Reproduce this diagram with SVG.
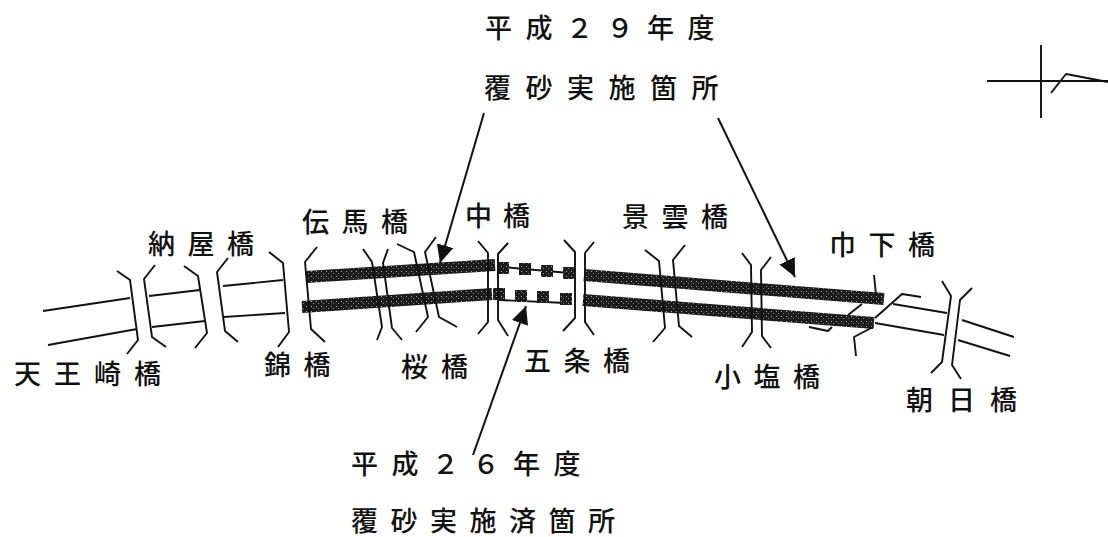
<svg xmlns="http://www.w3.org/2000/svg" width="1108" height="537" viewBox="0 0 1108 537">
<style>
.l{fill:none;stroke:#111;stroke-width:1.9;stroke-linejoin:round}
.b{fill:none;stroke:url(#st);stroke-width:12}
.s{fill:url(#st)}
.a{fill:none;stroke:#111;stroke-width:2}
text{font-family:"Noto Sans CJK JP","Noto Sans CJK SC",sans-serif;font-size:27px;font-weight:500;fill:#111;letter-spacing:12.5px}
</style>
<defs>
<pattern id="st" width="5" height="5" patternUnits="userSpaceOnUse">
<rect width="5" height="5" fill="#1c1c1c"/>
<rect x="1" y="1" width="1" height="1" fill="#a8a8a8"/>
<rect x="3" y="3" width="1" height="1" fill="#808080"/>
</pattern>
<marker id="ah" markerUnits="userSpaceOnUse" markerWidth="20" markerHeight="18" refX="18" refY="8.5" orient="auto">
<path d="M0 0L18 8.5L0 17Z" fill="#111"/>
</marker>
</defs>
<rect width="1108" height="537" fill="#fff"/>
<g id="roadway">
<path class="l" d="M43 311L130 298M48 345L137 329M149 296L200 290M152 327L205 321M223 286L283 280M224 317L285 313"/>
<path class="l" d="M503 267L569 273M499 300L566 303"/>
<path class="l" d="M893 304L947 313M875 323L944 335M962 320L1014 337M958 340L1010 356"/>
<path class="b" d="M306 277L495 265"/>
<path class="b" d="M302 307L492 294"/>
<path class="b" d="M584 275L884 299"/>
<path class="b" d="M583 300L874 323"/>
<g class="s">
<rect x="497" y="262" width="12" height="12"/><rect x="519" y="263" width="12" height="12"/><rect x="541" y="265" width="12" height="12"/><rect x="563" y="267" width="12" height="12"/>
<rect x="493" y="288" width="12" height="12"/><rect x="515" y="290" width="12" height="12"/><rect x="537" y="291" width="12" height="12"/><rect x="560" y="293" width="12" height="12"/>
</g>
</g>
<g id="tennozaki">
<path class="l" d="M117 271L130 280L138 340L127 354M155 265L144 279L152 337L166 347"/>
<text x="14" y="384" style="letter-spacing:13px">天王崎橋</text>
</g>
<g id="naya">
<path class="l" d="M184 266L198 276L207 333L195 348M228 258L217 272L225 331L238 342"/>
<text x="148" y="254">納屋橋</text>
</g>
<g id="nishiki">
<path class="l" d="M269 252L283 263L289 332L278 347M317 247L305 262L311 329L325 342"/>
<text x="264" y="375">錦橋</text>
</g>
<g id="temma">
<path class="l" d="M363 249L372 262L382 327L377 340M388 249L383 263L392 328L402 340"/>
<text x="302" y="232">伝馬橋</text>
</g>
<g id="sakura">
<path class="l" d="M397 244L414 252L428 317L416 332M436 237L425 252L439 317L457 327"/>
<text x="401" y="377" style="letter-spacing:13px">桜橋</text>
</g>
<g id="naka">
<path class="l" d="M478 241L488 253L488 322L478 334M508 243L498 254L498 320L508 336"/>
<text x="465" y="226" style="letter-spacing:11px">中橋</text>
</g>
<g id="gojo">
<path class="l" d="M564 240L575 252L575 318L563 331M594 242L585 253L585 322L594 335"/>
<text x="524" y="371">五条橋</text>
</g>
<g id="keiun">
<path class="l" d="M645 250L659 261L665 328L653 342M685 245L673 260L679 326L692 337"/>
<text x="622" y="227">景雲橋</text>
</g>
<g id="koshio">
<path class="l" d="M742 253L751 265L752 332L742 347M771 257L761 270L762 336L771 348"/>
<text x="714" y="387">小塩橋</text>
</g>
<g id="kinoshita">
<path class="l" d="M874 275L876 295M862 304L848 315M832 327L828 331L809 327M875 318L902 294L921 297M873 327L854 337L856 356"/>
<text x="829" y="255">巾下橋</text>
</g>
<g id="asahi">
<path class="l" d="M942 281L951 296L942 362L931 373M972 288L960 300L952 365L961 379"/>
<text x="906" y="410" style="letter-spacing:15px">朝日橋</text>
</g>
<g id="north">
<path class="l" d="M1041 45V118M987 81H1108M1051 93L1066 74L1108 82"/>
</g>
<g id="label-h29">
<text x="485" y="38" style="letter-spacing:13.5px">平成２９年度</text>
<text x="484" y="98" style="letter-spacing:14.5px">覆砂実施箇所</text>
</g>
<g id="label-h26">
<text x="351" y="474" style="letter-spacing:13.5px">平成２６年度</text>
<text x="351" y="531" style="letter-spacing:12.5px">覆砂実施済箇所</text>
</g>
<g id="connectors">
<path class="a" d="M484 113L440 263" marker-end="url(#ah)"/>
<path class="a" d="M718 118L795 277" marker-end="url(#ah)"/>
<path class="a" d="M473 455L526 306" marker-end="url(#ah)"/>
</g>
</svg>
